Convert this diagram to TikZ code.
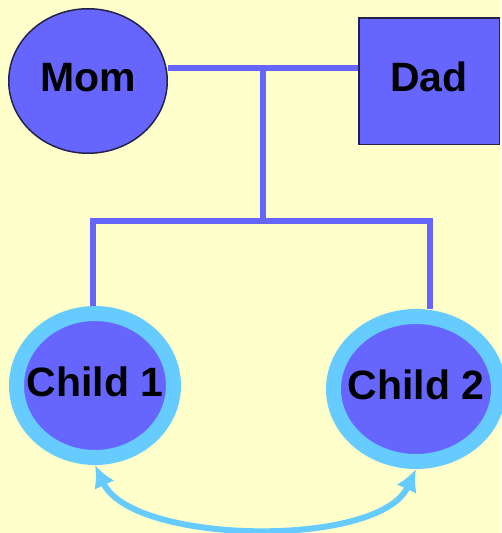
\documentclass[tikz,border=0pt]{standalone}
\usepackage{fontspec}
\setmainfont{Liberation Sans}
\usetikzlibrary{arrows.meta}
\usetikzlibrary{shapes.geometric}
\definecolor{paper}{HTML}{FFFFCC}
\definecolor{famblue}{HTML}{6666FF}
\definecolor{ringblue}{HTML}{66CCFF}
\definecolor{rim}{HTML}{22224D}

\begin{document}
\begin{tikzpicture}[x=1pt,y=1pt,
	parent/.style = {draw=rim, line width=1.5pt, fill=famblue},
	kid/.style = {ellipse, draw=ringblue, line width=15pt, fill=famblue},
	link/.style = {famblue, line width=6pt},
	kin/.style = {ringblue, line width=6pt, {Latex[length=22pt,width=22pt]}-{Latex[length=22pt,width=22pt]}}]
	\fill[paper] (0,0) rectangle (501,-533);
	\useasboundingbox (0,0) rectangle (501,-533);
	\begin{scope}[every node/.style={inner sep=0pt, text height=21pt, text depth=0pt, font=\fontsize{41}{41}\selectfont\bfseries}]
		\node[parent, ellipse, minimum width=158.5pt, minimum height=144.5pt] (Mom) at (88,-81) {\makebox[0pt]{Mom}};
		\node[parent, rectangle, minimum width=140.5pt, minimum height=126.5pt] (Dad) at (429,-81) {Dad};
		\node[kid, minimum width=157pt, minimum height=144pt] (C1) at (95,-385.5) {\makebox[0pt]{Child 1}};
		\node[kid, minimum width=165pt, minimum height=145pt] (C2) at (416,-389) {\makebox[0pt]{Child 2}};
	\end{scope}
	\coordinate (top) at (263,-68);
	\coordinate (fork) at (263,-221);
	\coordinate (left) at (93,-221);
	\coordinate (right) at (430,-221);
	\draw [link] (Mom.east |- top) -- (Dad.west |- top);
	\draw [link] (top) -- (fork);
	\draw [link] (left |- C1.north) -- (left) -- (right) -- (right |- C2.north);
	\draw [kin] (C1.south) to [out=-65,in=-115,looseness=0.7] (C2.south);
\end{tikzpicture}
\end{document}
